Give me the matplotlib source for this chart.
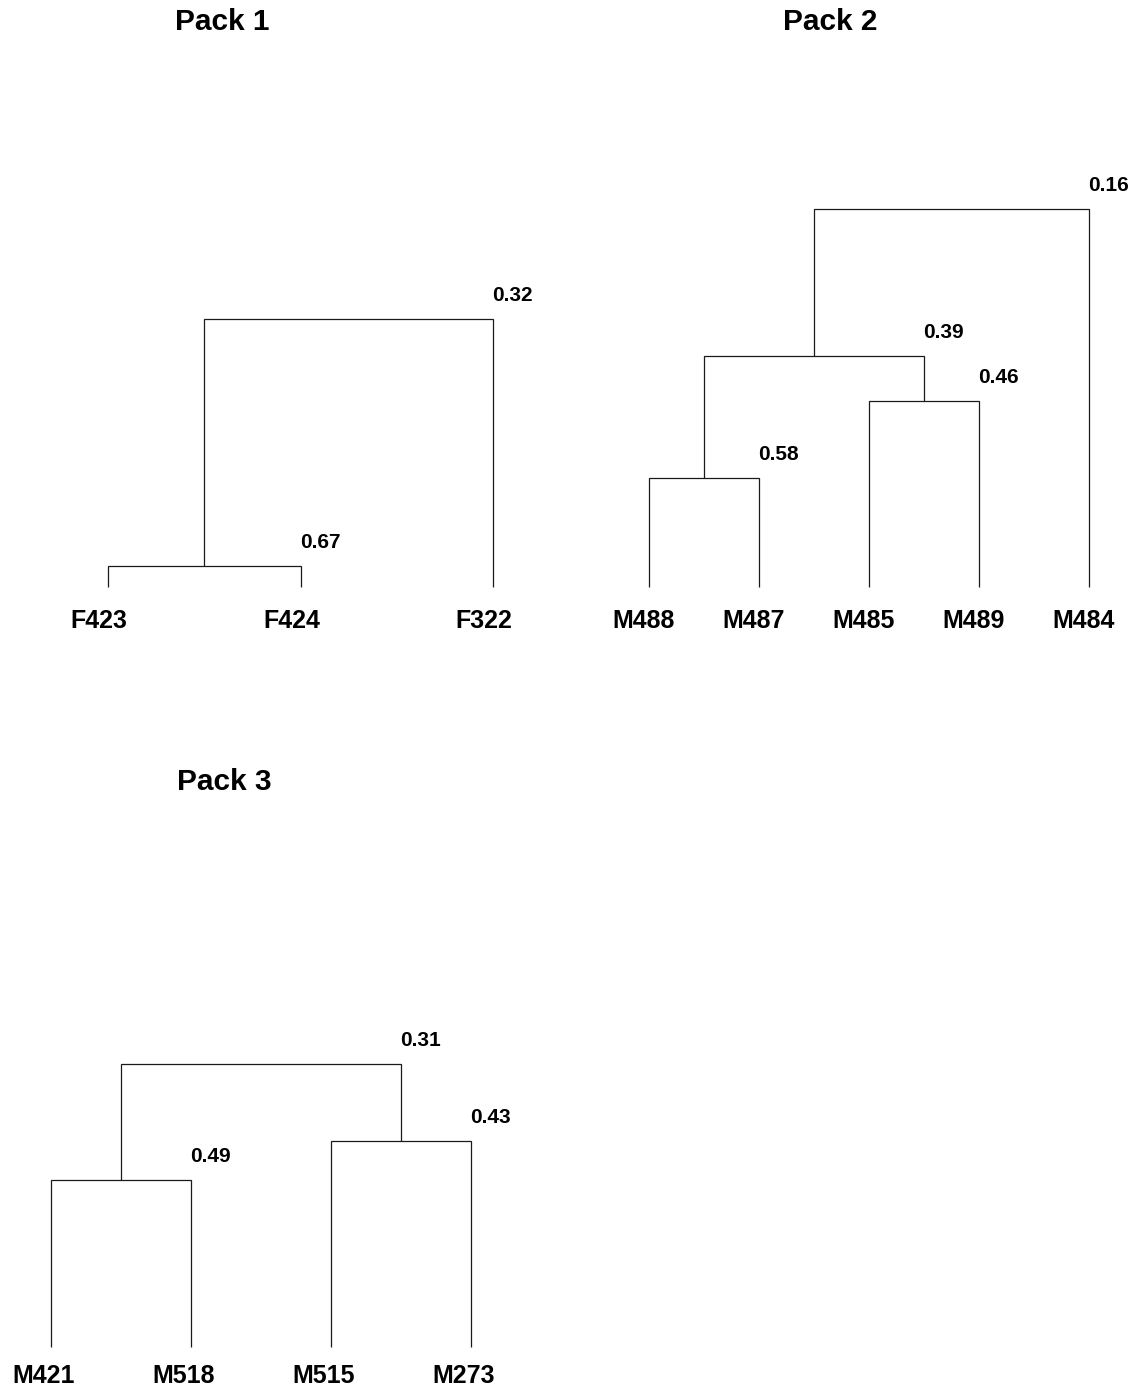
import matplotlib
matplotlib.use("Agg")
import matplotlib.pyplot as plt

plt.rcParams['font.family'] = ['Liberation Sans', 'DejaVu Sans']

# ---------------- data ----------------
pack_titles = ["Pack 1", "Pack 2", "Pack 3"]

pack1_leaves = ["F423", "F424", "F322"]
pack1_merges = [(0, 1), (3, 2)]            # node ids: leaves 0..n-1, merges n..
pack1_sims = [0.67, 0.32]
pack1_leaf_level = 0.70

pack2_leaves = ["M488", "M487", "M485", "M489", "M484"]
pack2_merges = [(0, 1), (2, 3), (5, 6), (7, 4)]
pack2_sims = [0.58, 0.46, 0.39, 0.16]
pack2_leaf_level = 0.75

pack3_leaves = ["M421", "M518", "M515", "M273"]
pack3_merges = [(0, 1), (2, 3), (4, 5)]
pack3_sims = [0.49, 0.43, 0.31]
pack3_leaf_level = 0.75

# ---------------- layout (pixels) ----------------
W, H, DPI = 1140, 1389, 100
PT = 72.0 / DPI  # points per pixel

# axes boxes: (x_first_leaf, x_last_leaf, y_top_merge, y_leaf_bottom)
boxes = [(108, 493, 319, 587), (649, 1089, 209, 587), (51, 471, 1064, 1347)]
label_gap = [41, 41, 36]          # leaf bottom -> label baseline (px)
label_shift = [-9, -5, -7]        # horizontal nudge of leaf labels (px)
title_pos = [(222, 22), (830, 22), (224, 782)]

LINE_COLOR = "#1a1a1a"

fig = plt.figure(figsize=(W / DPI, H / DPI), dpi=DPI)

packs = [
    (pack1_leaves, pack1_merges, pack1_sims, pack1_leaf_level),
    (pack2_leaves, pack2_merges, pack2_sims, pack2_leaf_level),
    (pack3_leaves, pack3_merges, pack3_sims, pack3_leaf_level),
]

for (leaves, merges, sims, leaf_level), (x0, x1, yt, yb), gap, shift, title, (tx, ty) in zip(
        packs, boxes, label_gap, label_shift, pack_titles, title_pos):
    ax = fig.add_axes([x0 / W, 1 - yb / H, (x1 - x0) / W, (yb - yt) / H])
    n = len(leaves)
    xs = [i + 1 for i in range(n)]
    ys = [leaf_level] * n
    for (a, b), s in zip(merges, sims):
        ax.plot([xs[a], xs[a], xs[b], xs[b]], [ys[a], s, s, ys[b]],
                color=LINE_COLOR, lw=0.9, clip_on=False, solid_capstyle='butt',
                solid_joinstyle='miter')
        ax.annotate(f"{s:.2f}", xy=(xs[b], s), xytext=(-0.5, 18 * PT),
                    textcoords="offset points", ha="left", va="baseline",
                    fontsize=15, fontweight="bold", annotation_clip=False)
        xs.append((xs[a] + xs[b]) / 2)
        ys.append(s)
    for i, lab in enumerate(leaves):
        ax.annotate(lab, xy=(i + 1, leaf_level), xytext=(shift * PT, -gap * PT),
                    textcoords="offset points", ha="center", va="baseline",
                    fontsize=18, fontweight="bold", annotation_clip=False)
    ax.set_xlim(1, n)
    ax.set_ylim(leaf_level, min(sims))
    ax.axis("off")
    fig.text(tx / W, 1 - ty / H, title, ha="center", va="center",
             fontsize=21.5, fontweight="bold")

fig.savefig("out.png", dpi=DPI)
